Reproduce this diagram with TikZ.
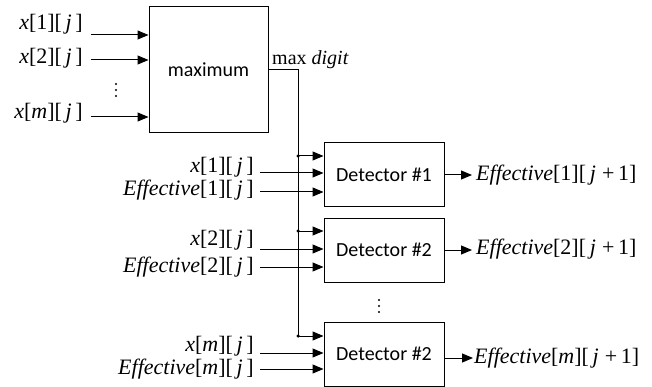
\documentclass[tikz,border=0pt]{standalone}
\usepackage{fontspec}
\setmainfont{Liberation Serif}
\newfontfamily\boxfont{Carlito}
\usetikzlibrary{arrows.meta}
\newcommand\ix[1]{\textit{x}[#1][\,\textit{j}\,]}
\newcommand\ef[1]{\textit{Effective}[#1][\,\textit{j}\,]}
\newcommand\efn[1]{\textit{Effective}[#1][\,\textit{j}\;+\,1]}
\begin{document}
\begin{tikzpicture}[x=1pt,y=-1pt,
  ln/.style={line width=1pt},
  arr/.style={ln,-{Triangle[length=11pt,width=9pt]}},
  blk/.style={draw,ln,inner sep=0pt,font=\boxfont\fontsize{20}{24}\selectfont},
  lbl/.style={inner sep=0pt,font=\fontsize{22}{24}\selectfont},
  jdot/.style={circle,fill,inner sep=0pt,minimum size=3.5pt},
  vdot/.style={circle,fill,inner sep=0pt,minimum size=2.4pt}]
\useasboundingbox (0,0) rectangle (652,387);
% maximum block
\node[blk,minimum width=119pt,minimum height=126pt] (mx) at (208.5,70) {maximum};
\coordinate (a1) at (91,35);
\coordinate (a2) at (91,60);
\coordinate (a3) at (91,117);
\node[lbl,anchor=east] (la1) at (83,24) {\ix{1}};
\node[lbl,anchor=east] (la2) at (83,58) {\ix{2}};
\node[lbl,anchor=east] (la3) at (83,113) {\ix{\textit{m}}};
\draw[arr] (a1) -- (a1 -| mx.west);
\draw[arr] (a2) -- (a2 -| mx.west);
\draw[arr] (a3) -- (a3 -| mx.west);
\node[vdot] (v11) at (116,84) {};
\node[vdot] (v12) at (116,90) {};
\node[vdot] (v13) at (116,96) {};
\node[lbl,anchor=west,font=\fontsize{20}{22}\selectfont] (mdl) at (272,60) {max \textit{digit}};
% detectors
\node[blk,minimum width=120pt,minimum height=64pt] (d1) at (384,175) {Detector \#1};
\node[blk,minimum width=120pt,minimum height=64pt] (d2) at (384,250) {Detector \#2};
\node[blk,minimum width=120pt,minimum height=64pt] (d3) at (384,354) {Detector \#2};
\node[vdot] (v21) at (379,300) {};
\node[vdot] (v22) at (379,306) {};
\node[vdot] (v23) at (379,312) {};
% distribution of max digit
\coordinate (j0) at (298,70);
\coordinate (j1) at (298,156);
\coordinate (j2) at (298,231);
\coordinate (j3) at (298,336);
\draw[ln] (mx.east |- j0) -- (j0) -- (j3);
\node[jdot] at (j1) {};
\node[jdot] at (j2) {};
\node[jdot] at (j3) {};
\draw[arr] (j1) -- (j1 -| d1.west);
\draw[arr] (j2) -- (j2 -| d2.west);
\draw[arr] (j3) -- (j3 -| d3.west);
% detector inputs
\coordinate (b1) at (260,173);
\coordinate (c1) at (260,192);
\coordinate (b2) at (260,249);
\coordinate (c2) at (260,267);
\coordinate (b3) at (260,353);
\coordinate (c3) at (260,369);
\node[lbl,anchor=east] (lb1) at (254,167) {\ix{1}};
\node[lbl,anchor=east] (lc1) at (254,190) {\ef{1}};
\node[lbl,anchor=east] (lb2) at (254,240) {\ix{2}};
\node[lbl,anchor=east] (lc2) at (254,267) {\ef{2}};
\node[lbl,anchor=east] (lb3) at (254,346) {\ix{\textit{m}}};
\node[lbl,anchor=east] (lc3) at (254,369) {\ef{\textit{m}}};
\draw[arr] (b1) -- (b1 -| d1.west);
\draw[arr] (c1) -- (c1 -| d1.west);
\draw[arr] (b2) -- (b2 -| d2.west);
\draw[arr] (c2) -- (c2 -| d2.west);
\draw[arr] (b3) -- (b3 -| d3.west);
\draw[arr] (c3) -- (c3 -| d3.west);
% outputs
\coordinate (o1) at (472,175);
\coordinate (o2) at (472,250);
\coordinate (o3) at (473,358);
\draw[arr] (d1.east |- o1) -- (o1);
\draw[arr] (d2.east |- o2) -- (o2);
\draw[arr] (d3.east |- o3) -- (o3);
\node[lbl,anchor=west] (lo1) at (476,175) {\efn{1}};
\node[lbl,anchor=west] (lo2) at (476,249) {\efn{2}};
\node[lbl,anchor=west] (lo3) at (474,358) {\efn{\textit{m}}};
\end{tikzpicture}
\end{document}
